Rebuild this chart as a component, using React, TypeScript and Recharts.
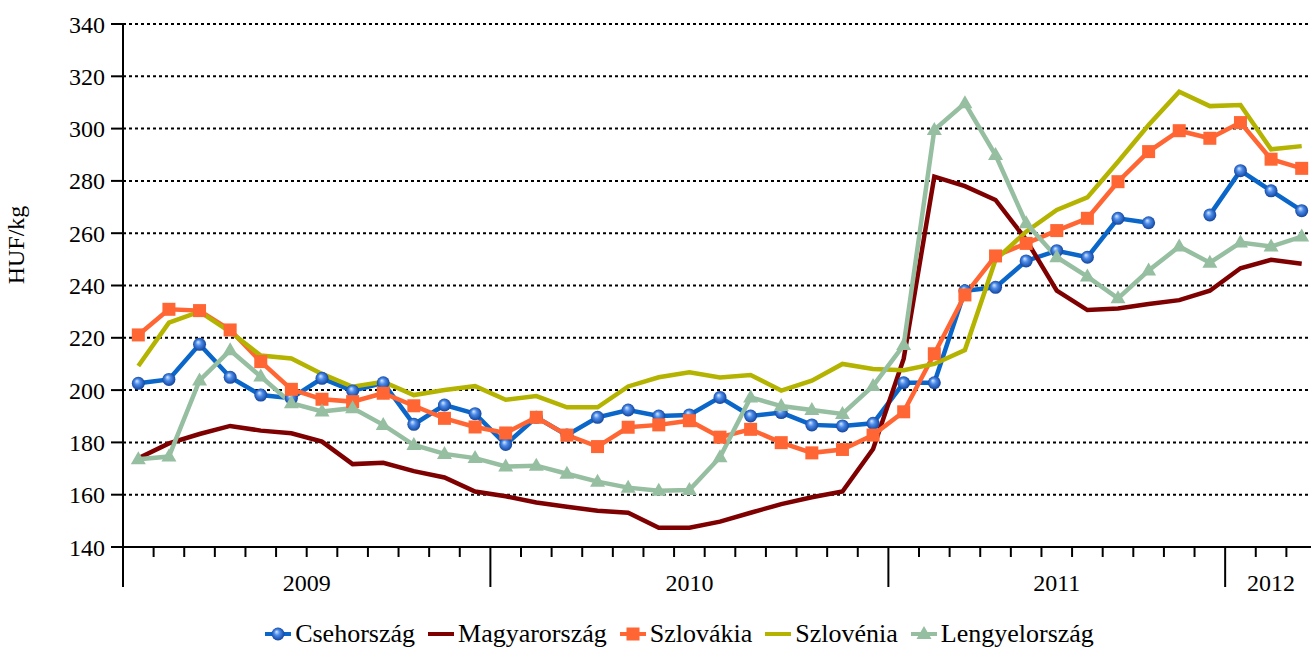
import React from 'react';
import { LineChart, Line, XAxis, YAxis, CartesianGrid, Legend } from 'recharts';

// ---- categories (monthly, Jan 2009 – Mar 2012) ----
const months = [
  '2009-01', '2009-02', '2009-03', '2009-04', '2009-05', '2009-06', '2009-07', '2009-08', '2009-09', '2009-10', '2009-11', '2009-12',
  '2010-01', '2010-02', '2010-03', '2010-04', '2010-05', '2010-06', '2010-07', '2010-08', '2010-09', '2010-10', '2010-11', '2010-12',
  '2011-01', '2011-02', '2011-03', '2011-04', '2011-05', '2011-06', '2011-07', '2011-08', '2011-09', '2011-10', '2011-11', '2011-12',
  '2012-01', '2012-02', '2012-03',
];

// year group labels as drawn on the category axis, with the number of months in each group
const yearLabels = ['2009', '2010', '2011', '2012'];
const yearGroupSizes = [12, 13, 11, 3];

const yTicks = [140, 160, 180, 200, 220, 240, 260, 280, 300, 320, 340];

// ---- series values (HUF/kg) ----
const csehorszag = [
  202.6, 204.1, 217.5, 204.9, 198.1, 196.9, 204.5, 199.7, 202.8, 186.9,
  194.3, 191.0, 179.2, 189.6, 182.8, 189.6, 192.4, 190.1, 190.5, 197.2,
  190.1, 191.4, 186.7, 186.3, 187.3, 202.8, 202.8, 238.0, 239.3, 249.4,
  253.3, 250.8, 265.7, 264.0, null, 267.0, 283.9, 276.2, 268.6,
];
const magyarorszag = [
  173.9, 179.6, 183.2, 186.3, 184.5, 183.5, 180.3, 171.7, 172.2, 169.0,
  166.6, 161.2, 159.4, 157.0, 155.4, 153.9, 153.1, 147.4, 147.4, 149.7,
  153.1, 156.4, 159.0, 161.2, 177.5, 212.0, 281.6, 278.0, 272.7, 257.5,
  238.0, 230.6, 231.2, 232.9, 234.4, 238.0, 246.6, 249.8, 248.3,
];
const szlovakia = [
  221.1, 230.9, 230.4, 223.0, 210.9, 200.3, 196.5, 195.6, 198.8, 194.0,
  189.2, 185.9, 183.6, 189.6, 182.8, 178.4, 185.8, 186.7, 188.3, 182.0,
  185.0, 179.9, 176.0, 177.3, 182.8, 191.7, 213.9, 236.4, 251.3, 256.1,
  261.0, 265.7, 279.7, 291.2, 299.2, 296.3, 302.3, 288.3, 284.8,
];
const szlovenia = [
  209.2, 225.8, 230.0, 222.3, 213.2, 212.1, 206.2, 201.3, 203.2, 198.1,
  200.0, 201.5, 196.3, 197.7, 193.4, 193.4, 201.4, 204.9, 206.8, 204.8,
  205.8, 199.8, 203.6, 210.0, 208.1, 207.6, 210.0, 215.3, 249.8, 260.6,
  268.9, 273.7, 287.3, 301.4, 314.1, 308.6, 309.0, 292.1, 293.3,
];
const lengyelorszag = [
  173.6, 174.6, 203.7, 215.2, 205.2, 195.0, 191.8, 193.1, 186.7, 179.0,
  175.6, 174.0, 170.8, 171.1, 168.0, 165.0, 162.7, 161.5, 161.8, 174.3,
  197.2, 193.9, 192.4, 190.9, 201.6, 217.2, 299.5, 309.7, 289.9, 263.8,
  250.8, 243.4, 235.1, 245.7, 254.9, 248.7, 256.4, 254.9, 258.7,
];

const seriesNames = ['Csehország', 'Magyarország', 'Szlovákia', 'Szlovénia', 'Lengyelország'];

// ---- styling ----
const FONT = '"Liberation Serif", "Times New Roman", Times, serif';
const COLORS = {
  cz: '#0A66C8',
  hu: '#7F0000',
  sk: '#FF6633',
  si: '#B3B300',
  pl: '#96BEA0',
};

const data = months.map((m, i) => ({
  idx: i,
  month: m,
  cz: csehorszag[i],
  hu: magyarorszag[i],
  sk: szlovakia[i],
  si: szlovenia[i],
  pl: lengyelorszag[i],
}));

// axis tick positions derived from the category structure
const groupStarts: number[] = [];
{
  let acc = 0;
  yearGroupSizes.forEach((s) => {
    groupStarts.push(acc);
    acc += s;
  });
}
const minorBounds = months.map((_, i) => i - 0.5).concat([months.length - 0.5]);
const majorBounds = groupStarts.map((s) => s - 0.5).concat([months.length - 0.5]);
const labelCenters = groupStarts.map((s, k) => s - 0.5 + yearGroupSizes[k] / 2);
const xTicks = Array.from(new Set([...minorBounds, ...labelCenters])).sort((a, b) => a - b);

const near = (a: number, b: number) => Math.abs(a - b) < 1e-6;

const XTick = (props: any) => {
  const { x, y, payload } = props;
  const v = payload.value as number;
  const isBound = minorBounds.some((b) => near(b, v));
  const isMajor = majorBounds.some((b) => near(b, v));
  const li = labelCenters.findIndex((c) => near(c, v));
  return (
    <g>
      {isBound && (
        <line x1={x} y1={y} x2={x} y2={y + (isMajor ? 40 : 10)} stroke="#000" strokeWidth={2} />
      )}
      {li >= 0 && (
        <text x={x} y={y + 44} textAnchor="middle" fontFamily={FONT} fontSize={24} fill="#000">
          {yearLabels[li]}
        </text>
      )}
    </g>
  );
};

const SphereDot = (p: any) => {
  if (p.cx == null || p.cy == null || p.value == null || Number.isNaN(p.cy)) return <g key={p.key} />;
  return <circle key={p.key} cx={p.cx} cy={p.cy} r={6.5} fill="url(#czSphere)" />;
};
const SquareDot = (p: any) => {
  if (p.cx == null || p.cy == null) return <g key={p.key} />;
  return <rect key={p.key} x={p.cx - 6.5} y={p.cy - 6.5} width={13} height={13} fill={COLORS.sk} />;
};
const TriangleDot = (p: any) => {
  if (p.cx == null || p.cy == null) return <g key={p.key} />;
  const { cx, cy } = p;
  return (
    <polygon
      key={p.key}
      points={`${cx},${cy - 8} ${cx + 7.5},${cy + 5} ${cx - 7.5},${cy + 5}`}
      fill={COLORS.pl}
    />
  );
};

const Gradient = ({ id }: { id: string }) => (
  <radialGradient id={id} cx="50%" cy="50%" r="55%" fx="38%" fy="32%">
    <stop offset="0%" stopColor="#D6E8FF" />
    <stop offset="40%" stopColor="#4A8AE8" />
    <stop offset="100%" stopColor="#0B3C94" />
  </radialGradient>
);

const legendKeys = ['cz', 'hu', 'sk', 'si', 'pl'] as const;

const LegendSymbol = ({ k }: { k: (typeof legendKeys)[number] }) => {
  const c = (COLORS as any)[k];
  return (
    <svg width={26} height={20} style={{ display: 'block' }}>
      <line x1={0} y1={10} x2={26} y2={10} stroke={c} strokeWidth={4} />
      {k === 'cz' && <circle cx={13} cy={10} r={6.5} fill="url(#czSphereLegend)" />}
      {k === 'sk' && <rect x={6.5} y={3.5} width={13} height={13} fill={c} />}
      {k === 'pl' && <polygon points="13,2 20.5,15 5.5,15" fill={c} />}
      <defs>{k === 'cz' && <Gradient id="czSphereLegend" />}</defs>
    </svg>
  );
};

const LegendContent = () => (
  <div
    style={{
      display: 'flex',
      justifyContent: 'center',
      alignItems: 'center',
      height: 30,
      paddingLeft: 42,
      fontFamily: FONT,
      fontSize: 26,
      color: '#000',
      whiteSpace: 'nowrap',
    }}
  >
    {legendKeys.map((k, i) => (
      <div key={k} style={{ display: 'flex', alignItems: 'center', marginRight: i < legendKeys.length - 1 ? 13 : 0 }}>
        <LegendSymbol k={k} />
        <span style={{ marginLeft: 4, lineHeight: '30px' }}>{seriesNames[i]}</span>
      </div>
    ))}
  </div>
);

export default function App() {
  return (
    <div
      style={{
        position: 'absolute',
        left: 0,
        top: 0,
        width: 1311,
        height: 649,
        overflow: 'hidden',
        background: '#fff',
      }}
    >
      <LineChart
        width={1330}
        height={649}
        data={data}
        margin={{ top: 24, right: 13, bottom: 0, left: 0 }}
      >
        <defs>
          <Gradient id="czSphere" />
        </defs>
        <CartesianGrid
          horizontal
          vertical={false}
          stroke="#000"
          strokeWidth={2}
          strokeDasharray="3 3"
        />
        <XAxis
          dataKey="idx"
          type="number"
          domain={[-0.5, months.length - 0.5]}
          ticks={xTicks}
          interval={0}
          height={72}
          tickSize={0}
          tickMargin={0}
          tickLine={false}
          axisLine={{ stroke: '#000', strokeWidth: 2 }}
          tick={<XTick />}
        />
        <YAxis
          type="number"
          domain={[140, 340]}
          ticks={yTicks}
          interval={0}
          width={123}
          tickSize={12}
          tickMargin={6}
          tickLine={{ stroke: '#000', strokeWidth: 2 }}
          axisLine={{ stroke: '#000', strokeWidth: 2 }}
          tick={{ fontSize: 24, fill: '#000', fontFamily: FONT }}
          label={{
            content: () => (
              <text
                x={24}
                y={245}
                transform="rotate(-90, 24, 245)"
                textAnchor="middle"
                fontFamily={FONT}
                fontSize={24}
                fill="#000"
              >
                HUF/kg
              </text>
            ),
          }}
        />
        <Legend verticalAlign="bottom" height={30} content={<LegendContent />} />
        <Line
          dataKey="cz"
          name={seriesNames[0]}
          stroke={COLORS.cz}
          strokeWidth={4.5}
          dot={SphereDot}
          activeDot={false}
          isAnimationActive={false}
          connectNulls={false}
        />
        <Line
          dataKey="hu"
          name={seriesNames[1]}
          stroke={COLORS.hu}
          strokeWidth={4.5}
          dot={false}
          activeDot={false}
          isAnimationActive={false}
        />
        <Line
          dataKey="sk"
          name={seriesNames[2]}
          stroke={COLORS.sk}
          strokeWidth={4.5}
          dot={SquareDot}
          activeDot={false}
          isAnimationActive={false}
        />
        <Line
          dataKey="si"
          name={seriesNames[3]}
          stroke={COLORS.si}
          strokeWidth={4.5}
          dot={false}
          activeDot={false}
          isAnimationActive={false}
        />
        <Line
          dataKey="pl"
          name={seriesNames[4]}
          stroke={COLORS.pl}
          strokeWidth={4.5}
          dot={TriangleDot}
          activeDot={false}
          isAnimationActive={false}
        />
      </LineChart>
    </div>
  );
}
